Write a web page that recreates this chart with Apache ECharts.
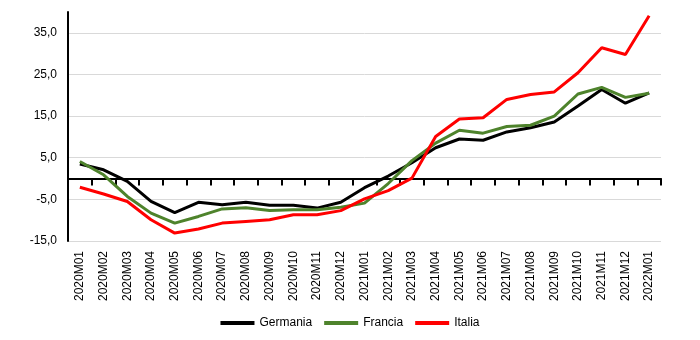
<!DOCTYPE html>
<html><head><meta charset="utf-8">
<script src="https://cdn.jsdelivr.net/npm/echarts@6/dist/echarts.min.js"></script>
<style>html,body{margin:0;padding:0;background:#fff}#c{width:700px;height:340px}</style>
</head><body><div id="c"></div>
<script>
var categories = ['2020M01','2020M02','2020M03','2020M04','2020M05','2020M06','2020M07','2020M08','2020M09','2020M10','2020M11','2020M12','2021M01','2021M02','2021M03','2021M04','2021M05','2021M06','2021M07','2021M08','2021M09','2021M10','2021M11','2021M12','2022M01'];
var germania = [3.5, 2.1, -0.7, -5.5, -8.2, -5.7, -6.3, -5.7, -6.4, -6.4, -7.1, -5.7, -2.2, 0.6, 3.8, 7.4, 9.5, 9.2, 11.2, 12.2, 13.6, 17.4, 21.4, 18.1, 20.6];
var francia = [4.1, 0.9, -4.3, -8.3, -10.7, -9.1, -7.3, -7.0, -7.7, -7.5, -7.5, -6.9, -5.9, -1.2, 4.3, 8.5, 11.6, 10.9, 12.5, 12.8, 15.0, 20.3, 21.9, 19.5, 20.5];
var italia = [-2.1, -3.7, -5.5, -9.9, -13.1, -12.1, -10.7, -10.3, -9.9, -8.7, -8.7, -7.7, -4.9, -2.9, 0.1, 10.1, 14.3, 14.6, 19.0, 20.2, 20.8, 25.4, 31.4, 29.8, 39.1];
var seriesNames = ['Germania', 'Francia', 'Italia'];
var colors = ['#000000', '#4e832c', '#ff0000'];
var yMin = -15, yMax = 40, yStep = 10;

var chart = echarts.init(document.getElementById('c'), null, {renderer: 'canvas'});
var font = 'Liberation Sans, Arial, sans-serif';
var dataSets = [germania, francia, italia];
chart.setOption({
  animation: false,
  color: colors,
  grid: {left: 68, right: 39, top: 12, bottom: 99},
  legend: {
    bottom: 6, left: 'center',
    data: seriesNames,
    icon: 'rect', itemWidth: 34, itemHeight: 4, itemGap: 12,
    textStyle: {fontFamily: font, fontSize: 12, color: '#000'}
  },
  xAxis: {
    type: 'category', data: categories, position: 'bottom',
    axisLine: {show: true, onZero: true, lineStyle: {color: '#000', width: 2}},
    axisTick: {show: true, inside: false, interval: 0, length: 7, lineStyle: {color: '#000', width: 2}},
    axisLabel: {show: true, interval: 0, rotate: 90, fontFamily: font, fontSize: 12, color: '#000', margin: 10}
  },
  yAxis: {
    type: 'value', min: yMin, max: yMax, interval: yStep,
    axisLine: {show: true, lineStyle: {color: '#000', width: 2}},
    axisTick: {show: false},
    axisLabel: {
      fontFamily: font, fontSize: 12, color: '#000', margin: 11,
      formatter: function (v) { return v > 39 ? '' : v.toFixed(1).replace('.', ','); }
    },
    splitLine: {show: true, showMaxLine: false, lineStyle: {color: '#d9d9d9', width: 1}}
  },
  series: seriesNames.map(function (n, i) {
    return {
      name: n, type: 'line', data: dataSets[i],
      symbol: 'none', lineStyle: {width: 3, color: colors[i]},
      itemStyle: {color: colors[i]}
    };
  })
});
</script></body></html>
